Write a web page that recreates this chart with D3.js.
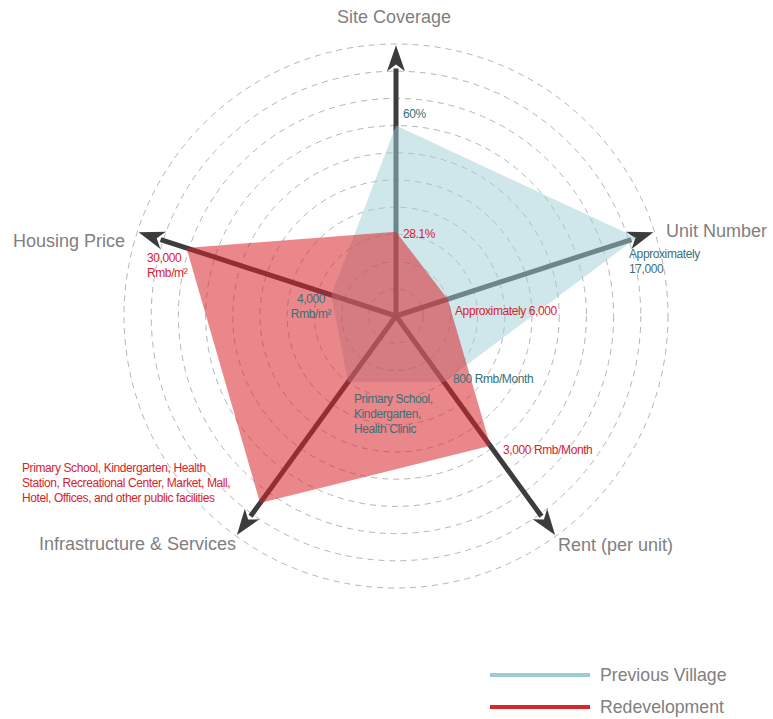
<!DOCTYPE html>
<html>
<head>
<meta charset="utf-8">
<script src="https://cdn.jsdelivr.net/npm/d3@7"></script>
<style>
body{margin:0;background:#fff;}
svg{display:block;}
text{font-family:"Liberation Sans",Arial,sans-serif;}
</style>
</head>
<body>
<svg id="chart" width="773" height="719"></svg>
<script>
// ---- data ----
const axes = ["Site Coverage", "Unit Number", "Rent (per unit)", "Infrastructure & Services", "Housing Price"];
// values expressed in ring units (0-10)
const previousVillage = [7.0, 9.3, 3.0, 3.0, 2.5];
const redevelopment = [3.1, 2.0, 5.9, 8.5, 8.1];
const previousLabels = [["60%"], ["Approximately", "17,000"], ["800 Rmb/Month"], ["Primary School,", "Kindergarten,", "Health Clinic"], ["4,000", "Rmb/m\u00b2"]];
const redevLabels = [["28.1%"], ["Approximately 6,000"], ["3,000 Rmb/Month"], ["Primary School, Kindergarten, Health", "Station, Recreational Center, Market, Mall,", "Hotel, Offices, and other public facilities"], ["30,000", "Rmb/m\u00b2"]];
const rings = [1,2,3,4,5,6,7,8,9,10];
const seriesNames = ["Previous Village", "Redevelopment"];

// ---- layout ----
const svg = d3.select("#chart");
const cx = 396, cy = 316;
const r = d3.scaleLinear().domain([0, 10]).range([0, 272]);
const ang = d3.scaleLinear().domain([0, axes.length]).range([-Math.PI/2, 1.5*Math.PI]);
const pt = (i, v) => [cx + Math.cos(ang(i)) * r(v), cy + Math.sin(ang(i)) * r(v)];

const g = svg.append("g");

// rings
g.selectAll("circle.ring").data(rings).join("circle")
  .attr("cx", cx).attr("cy", cy).attr("r", d => r(d))
  .attr("fill", "none").attr("stroke", "#b5b5b5").attr("stroke-width", 1)
  .attr("stroke-dasharray", "6,5");

// axes with arrowheads
const axisCol = "#3c3c3c";
axes.forEach((a, i) => {
  const [x1, y1] = pt(i, 9.1);
  g.append("line").attr("x1", cx).attr("y1", cy).attr("x2", x1).attr("y2", y1)
    .attr("stroke", axisCol).attr("stroke-width", 5);
  const th = ang(i);
  const tip = pt(i, 9.95), base = pt(i, 9.0), notch = pt(i, 9.25);
  const px = -Math.sin(th) * 9, py = Math.cos(th) * 9;
  g.append("path")
    .attr("d", `M${tip[0]},${tip[1]} L${base[0]+px},${base[1]+py} L${notch[0]},${notch[1]} L${base[0]-px},${base[1]-py} Z`)
    .attr("fill", axisCol);
});

// polygons
const line = d3.line().curve(d3.curveLinearClosed);
g.append("path").attr("d", line(previousVillage.map((v, i) => pt(i, v))))
  .attr("fill", "#9fcdd6").attr("fill-opacity", 0.5);
g.append("path").attr("d", line(redevelopment.map((v, i) => pt(i, v))))
  .attr("fill", "#d9252a").attr("fill-opacity", 0.55);

// axis labels
const axisLabelPos = [
  {x: 394, y: 23, a: "middle"},
  {x: 666, y: 237, a: "start"},
  {x: 558, y: 551, a: "start"},
  {x: 236, y: 550, a: "end"},
  {x: 125, y: 247, a: "end"}
];
axes.forEach((a, i) => {
  g.append("text").attr("x", axisLabelPos[i].x).attr("y", axisLabelPos[i].y)
    .attr("text-anchor", axisLabelPos[i].a).attr("font-size", 18)
    .attr("fill", "#808080").text(a);
});

// value labels
const teal = "#3a6f78", red = "#d8232a";
const prevPos = [
  {x: 403, y: 118, a: "start"},
  {x: 629, y: 258, a: "start"},
  {x: 453, y: 383, a: "start"},
  {x: 354, y: 403, a: "start"},
  {x: 311, y: 303, a: "middle"}
];
const redPos = [
  {x: 403, y: 238, a: "start"},
  {x: 455, y: 315, a: "start"},
  {x: 503, y: 454, a: "start"},
  {x: 22, y: 472, a: "start"},
  {x: 147, y: 262, a: "start"}
];
function valueLabel(lines, p, col) {
  const t = g.append("text").attr("font-size", 12).attr("fill", col)
    .attr("letter-spacing", "-0.4").attr("text-anchor", p.a);
  lines.forEach((s, k) => t.append("tspan").attr("x", p.x).attr("y", p.y + k * 15).text(s));
}
previousLabels.forEach((l, i) => valueLabel(l, prevPos[i], teal));
redevLabels.forEach((l, i) => valueLabel(l, redPos[i], red));

// legend
const legendCols = ["#9ccbd3", "#d9262b"];
seriesNames.forEach((s, k) => {
  const y = 675 + k * 32;
  g.append("line").attr("x1", 490).attr("x2", 590).attr("y1", y).attr("y2", y)
    .attr("stroke", legendCols[k]).attr("stroke-width", 4);
  g.append("text").attr("x", 600).attr("y", y + 6).attr("font-size", 17.7)
    .attr("fill", "#808080").text(s);
});
</script>
</body>
</html>
